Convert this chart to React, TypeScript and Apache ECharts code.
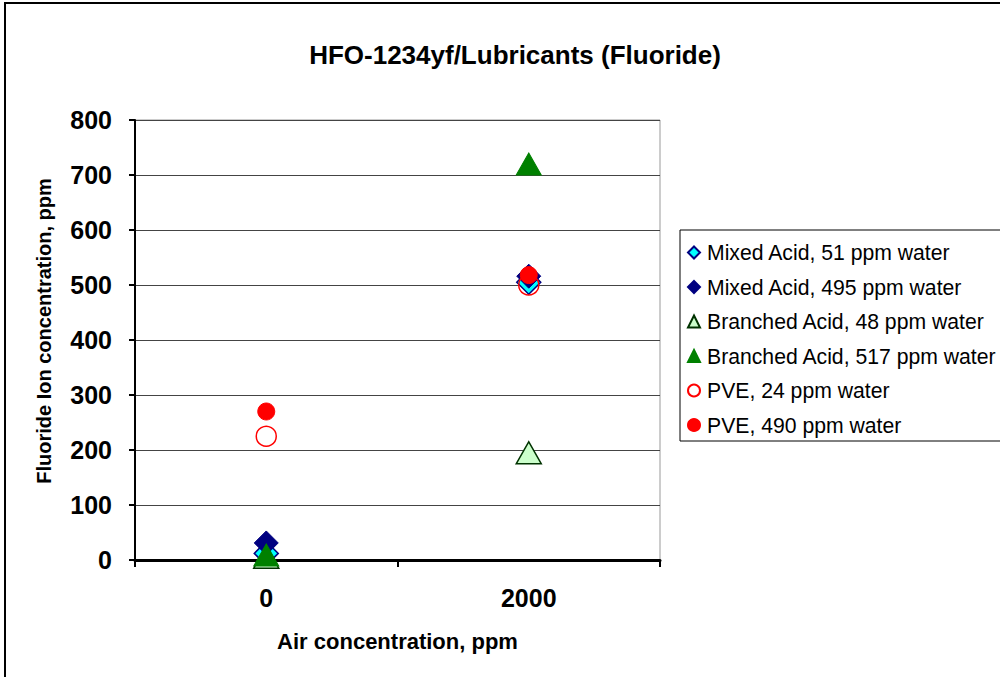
import React, { useEffect, useRef } from "react";
import * as echarts from "echarts";

const categories = ["0", "2000"];
const yTicks = { min: 0, max: 800, interval: 100 };
const seriesNames = [
  "Mixed Acid, 51 ppm water",
  "Mixed Acid, 495 ppm water",
  "Branched Acid, 48 ppm water",
  "Branched Acid, 517 ppm water",
  "PVE, 24 ppm water",
  "PVE, 490 ppm water",
];
const mixed51 = [12, 505];
const mixed495 = [31, 516];
const branched48 = [5, 195];
const branched517 = [9, 720];
const pve24 = [225, 500];
const pve490 = [270, 518];

const FONT = "Arial, 'Liberation Sans', sans-serif";

export default function App() {
  const ref = useRef<HTMLDivElement>(null);
  useEffect(() => {
    const chart = echarts.init(ref.current!, undefined, { renderer: "svg" });
    const mk = (
      name: string,
      data: number[],
      symbol: string,
      size: number | number[],
      fill: string,
      stroke: string,
      bw: number
    ) => ({
      name,
      type: "scatter",
      data,
      symbol,
      symbolSize: size,
      itemStyle: { color: fill, borderColor: stroke, borderWidth: bw, opacity: 1 },
      emphasis: { disabled: true },
    });
    chart.setOption({
      animation: false,
      backgroundColor: "#ffffff",
      title: {
        text: "HFO-1234yf/Lubricants (Fluoride)",
        left: 510,
        top: 37,
        textAlign: "center",
        textStyle: { fontFamily: FONT, fontSize: 26, fontWeight: "bold", color: "#000" },
      },
      graphic: [
        {
          type: "rect",
          shape: { x: 5, y: 3, width: 1010, height: 700 },
          style: { fill: "none", stroke: "#000", lineWidth: 2 },
          silent: true,
        },
        {
          type: "rect",
          shape: { x: 680, y: 230, width: 330, height: 211 },
          style: { fill: "#fff", stroke: "#000", lineWidth: 1 },
          silent: true,
          z: -1,
        },
        {
          type: "text",
          x: 44,
          y: 331,
          rotation: Math.PI / 2,
          style: {
            text: "Fluoride Ion concentration, ppm",
            fontFamily: FONT,
            fontSize: 20,
            fontWeight: "bold",
            fill: "#000",
            align: "center",
            verticalAlign: "middle",
          },
          silent: true,
        },
      ],
      legend: {
        orient: "vertical",
        left: 687,
        top: 241,
        itemWidth: 12,
        itemHeight: 12,
        itemGap: 11.5,
        padding: 0,
        textStyle: { fontFamily: FONT, fontSize: 21.2, color: "#000", lineHeight: 23, padding: [0, 0, 0, 2] },
        data: seriesNames,
        selectedMode: false,
      },
      grid: {
        left: 135,
        top: 120,
        width: 525,
        height: 440,
        show: true,
        borderColor: "#999",
        borderWidth: 1,
        backgroundColor: "#fff",
      },
      xAxis: {
        type: "category",
        data: categories,
        boundaryGap: true,
        axisLine: { show: true, lineStyle: { color: "#000", width: 3 } },
        axisTick: { show: true, inside: false, length: 7, alignWithLabel: false, lineStyle: { color: "#000", width: 2 } },
        axisLabel: { fontFamily: FONT, fontSize: 25, fontWeight: "bold", color: "#000", margin: 25 },
        splitLine: { show: false },
        name: "Air concentration, ppm",
        nameLocation: "middle",
        nameGap: 70,
        nameTextStyle: { fontFamily: FONT, fontSize: 22, fontWeight: "bold", color: "#000" },
      },
      yAxis: {
        type: "value",
        min: yTicks.min,
        max: yTicks.max,
        interval: yTicks.interval,
        axisLine: { show: true, lineStyle: { color: "#000", width: 2 } },
        axisTick: { show: true, inside: false, length: 6, lineStyle: { color: "#000", width: 2 } },
        axisLabel: { fontFamily: FONT, fontSize: 25, fontWeight: "bold", color: "#000", margin: 23 },
        splitLine: { show: true, lineStyle: { color: "#444", width: 1 } },
      },
      series: [
        mk(seriesNames[0], mixed51, "diamond", 24, "#00FFFF", "#000080", 1.5),
        mk(seriesNames[1], mixed495, "diamond", 24, "#000080", "#000080", 1),
        mk(seriesNames[2], branched48, "triangle", [25, 22], "#CCFFCC", "#003300", 1.5),
        mk(seriesNames[3], branched517, "triangle", [25, 22], "#008000", "#008000", 1),
        mk(seriesNames[4], pve24, "circle", 20, "transparent", "#FF0000", 1.5),
        mk(seriesNames[5], pve490, "circle", 17, "#FF0000", "#FF0000", 1),
      ],
    });
    return () => chart.dispose();
  }, []);
  return (
    <div
      ref={ref}
      style={{ position: "absolute", left: 0, top: 0, width: 1000, height: 677 }}
    />
  );
}
